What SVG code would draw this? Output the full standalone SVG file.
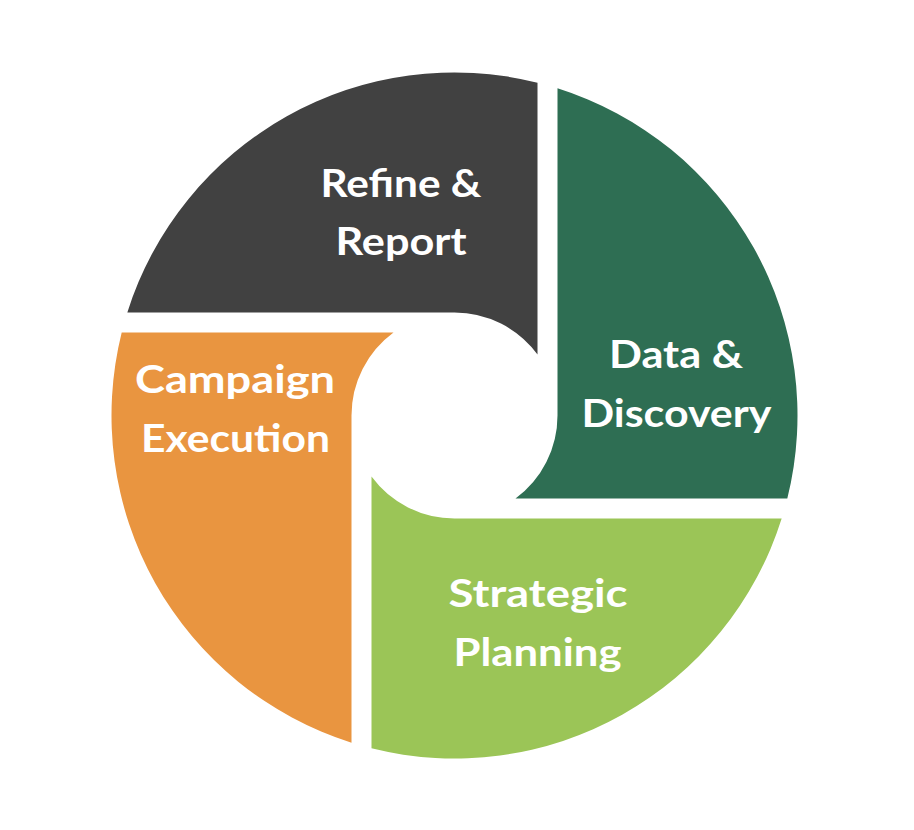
<svg xmlns="http://www.w3.org/2000/svg" width="914" height="830" viewBox="0 0 914 830">
  <style>
    .lbl { font-family: "Lato", "Open Sans", "Liberation Sans", sans-serif; font-weight: 700; font-size: 39px; fill: #ffffff; text-anchor: middle; }
  </style>
  <rect width="914" height="830" fill="#ffffff"/>
  <g id="refine-report">
    <path d="M 127.33 312.5 A 343 343 0 0 1 537.5 82.69 L 537.5 354.5 A 103 103 0 0 0 454.5 312.5 Z" fill="#414141"/>
    <text class="lbl" x="401" y="197" textLength="161" lengthAdjust="spacingAndGlyphs">Refine &amp;</text>
    <text class="lbl" x="401" y="255" textLength="131" lengthAdjust="spacingAndGlyphs">Report</text>
  </g>
  <g id="data-discovery">
    <path d="M 557.5 88.33 A 343 343 0 0 1 787.31 498.5 L 515.5 498.5 A 103 103 0 0 0 557.5 415.5 Z" fill="#2E6E53"/>
    <text class="lbl" x="676" y="368" textLength="134" lengthAdjust="spacingAndGlyphs">Data &amp;</text>
    <text class="lbl" x="676.5" y="427" textLength="190" lengthAdjust="spacingAndGlyphs">Discovery</text>
  </g>
  <g id="strategic-planning">
    <path d="M 781.67 518.5 A 343 343 0 0 1 371.5 748.31 L 371.5 476.5 A 103 103 0 0 0 454.5 518.5 Z" fill="#9BC557"/>
    <text class="lbl" x="538" y="607" textLength="179" lengthAdjust="spacingAndGlyphs">Strategic</text>
    <text class="lbl" x="537.5" y="666" textLength="168" lengthAdjust="spacingAndGlyphs">Planning</text>
  </g>
  <g id="campaign-execution">
    <path d="M 351.5 742.67 A 343 343 0 0 1 121.69 332.5 L 393.5 332.5 A 103 103 0 0 0 351.5 415.5 Z" fill="#E99540"/>
    <text class="lbl" x="235" y="393" textLength="200" lengthAdjust="spacingAndGlyphs">Campaign</text>
    <text class="lbl" x="235.5" y="452" textLength="189" lengthAdjust="spacingAndGlyphs">Execution</text>
  </g>
  <g id="connectors"></g>
</svg>
